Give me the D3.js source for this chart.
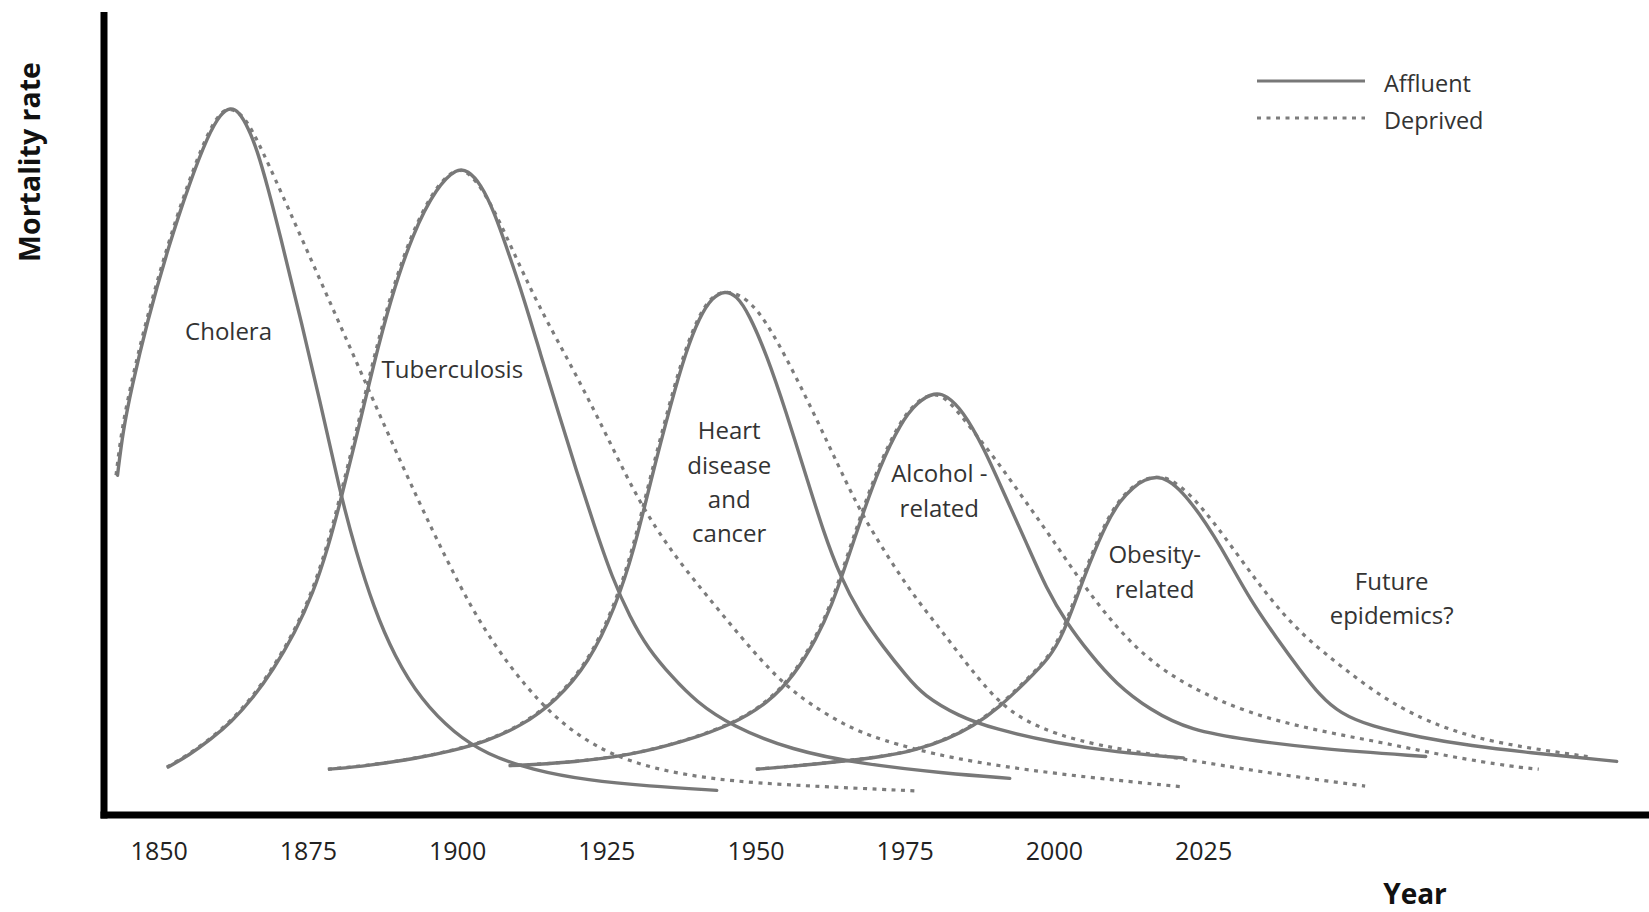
<!DOCTYPE html>
<html>
<head>
<meta charset="utf-8">
<script src="https://cdn.jsdelivr.net/npm/d3@7/dist/d3.min.js"></script>
<style>
  html, body { margin: 0; padding: 0; background: #ffffff; }
  svg { display: block; }
  text { font-family: "Open Sans", "Noto Sans", sans-serif; }
</style>
</head>
<body>
<svg id="chart" width="1649" height="912"></svg>
<script>
// ---------- DATA (year, mortality rate index; peak of cholera = 100) ----------
const tickYears = [1850, 1875, 1900, 1925, 1950, 1975, 2000, 2025];
const seriesNames = ["Affluent", "Deprived"];

// rising branches (shared by affluent and deprived)
const choleraRise = [[1843.1,48.2],[1844.0,54.4],[1845.4,60.4],[1848.1,70.1],[1851.6,80.5],[1855.1,89.5],[1858.3,96.5],[1860.4,99.5],[1862.0,100.4]];
const choleraAffluent = [[1863.4,99.8],[1865.0,97.5],[1866.5,94.3],[1868.3,89.0],[1870.3,82.4],[1873.7,70.6],[1877.0,58.9],[1880.4,45.7],[1883.0,37.5],[1886.0,29.5],[1889.5,22.5],[1894.0,16.3],[1899.5,11.6],[1905.0,8.6],[1912.5,6.4],[1922.0,4.9],[1932.0,4.1],[1943.5,3.5]];
const choleraDeprived = [[1864.6,99.3],[1867.5,94.5],[1872.0,86.0],[1877.5,75.5],[1883.0,65.0],[1888.5,54.4],[1893.8,44.5],[1898.5,36.2],[1902.7,29.3],[1907.0,23.5],[1911.6,18.4],[1916.0,14.4],[1920.5,11.3],[1926.0,8.6],[1932.7,6.7],[1940.0,5.5],[1946.8,4.8],[1955.0,4.3],[1964.5,3.9],[1977.6,3.4]];

const tbRise = [[1851.6,6.8],[1855.1,8.5],[1858.7,10.7],[1862.2,13.2],[1865.7,16.5],[1869.2,20.6],[1872.8,25.8],[1875.9,31.5],[1878.4,38.0],[1880.4,44.3],[1883.3,54.2],[1885.9,63.5],[1888.8,73.0],[1892.6,82.6],[1896.6,89.1],[1900.0,91.8]];
const tbAffluent = [[1901.8,91.4],[1903.9,89.6],[1906.2,85.6],[1908.5,80.0],[1911.0,73.8],[1914.0,65.3],[1917.0,57.0],[1920.0,48.8],[1923.0,41.0],[1926.0,33.6],[1929.0,28.0],[1932.0,23.6],[1936.0,19.6],[1940.0,16.1],[1946.0,12.6],[1956.0,9.2],[1968.0,7.2],[1982.0,5.9],[1992.6,5.2]];
const tbDeprived = [[1902.4,91.2],[1905.7,87.2],[1909.2,80.8],[1913.8,72.3],[1920.2,62.5],[1926.2,52.3],[1930.8,44.3],[1936.2,37.3],[1941.5,31.7],[1950.3,22.7],[1955.0,18.6],[1959.1,15.9],[1965.0,12.8],[1970.9,10.7],[1982.8,8.0],[2000.4,5.8],[2021.7,4.0]];

const heartRise = [[1878.6,6.5],[1885.1,7.0],[1893.0,8.0],[1899.2,9.1],[1904.8,10.4],[1910.7,12.6],[1916.5,16.1],[1922.1,21.6],[1926.5,29.4],[1929.7,37.7],[1932.5,47.6],[1936.0,58.9],[1938.3,65.6],[1940.6,70.6],[1942.7,73.4],[1944.9,74.4]];
const heartAffluent = [[1946.8,73.7],[1948.9,71.1],[1951.9,65.2],[1955.0,57.5],[1958.7,47.5],[1961.3,40.4],[1964.2,33.8],[1967.5,28.5],[1971.4,23.8],[1975.4,19.6],[1978.1,17.0],[1984.0,14.0],[1990.0,12.2],[2000.4,10.2],[2010.3,8.9],[2021.7,8.1]];
const heartDeprived = [[1947.7,73.8],[1950.3,72.0],[1953.7,67.7],[1959.0,58.8],[1962.5,52.5],[1965.4,47.3],[1968.0,42.8],[1972.0,37.2],[1976.4,31.5],[1980.9,26.7],[1985.5,21.6],[1989.3,17.6],[1993.0,14.6],[1998.0,12.3],[2004.0,10.6],[2012.0,9.2],[2021.7,8.0],[2034.9,6.1],[2052.4,4.1]];

const alcoholRise = [[1908.9,7.0],[1918.6,7.4],[1929.2,8.5],[1938.0,10.4],[1946.3,12.9],[1952.1,15.9],[1956.5,19.8],[1960.2,25.0],[1962.7,29.5],[1965.5,36.4],[1967.8,42.3],[1970.8,49.4],[1974.3,55.6],[1977.1,58.6],[1980.1,60.0]];
const alcoholAffluent = [[1982.0,59.5],[1984.7,57.4],[1988.2,52.2],[1991.7,45.5],[1995.3,38.8],[1998.8,32.0],[2002.1,27.3],[2006.0,22.9],[2010.4,18.6],[2016.1,14.9],[2022.8,12.0],[2032.8,10.6],[2044.1,9.4],[2062.3,8.3]];
const alcoholDeprived = [[1982.6,58.9],[1986.5,54.7],[1990.9,50.0],[1995.3,44.7],[1999.7,39.5],[2005.0,32.8],[2010.6,26.7],[2016.1,22.0],[2022.8,18.2],[2032.8,14.4],[2044.1,12.0],[2055.2,10.3],[2066.3,8.3],[2077.6,6.8],[2081.5,6.5]];

const obesityRise = [[1950.3,6.5],[1957.4,7.0],[1964.4,7.6],[1971.5,8.3],[1976.9,9.2],[1982.0,10.7],[1986.5,12.6],[1990.9,15.3],[1995.3,18.9],[1999.3,22.3],[2001.6,25.8],[2003.7,30.6],[2006.0,35.8],[2008.8,41.4],[2011.1,44.6],[2013.3,46.5],[2015.2,47.6],[2017.3,48.0]];
const obesityAffluent = [[2019.0,47.6],[2021.5,45.9],[2024.5,42.6],[2026.8,39.6],[2029.0,36.5],[2032.9,30.5],[2037.4,25.0],[2041.2,20.6],[2044.6,16.9],[2048.0,14.4],[2053.0,12.6],[2061.4,11.0],[2070.0,9.8],[2079.0,8.9],[2094.3,7.6]];
const obesityDeprived = [[2019.6,47.8],[2022.8,45.7],[2025.6,43.0],[2028.4,40.0],[2034.1,33.3],[2038.4,28.7],[2042.9,24.8],[2048.5,21.0],[2055.2,16.7],[2062.0,13.6],[2068.0,11.7],[2073.8,10.4],[2082.0,9.2],[2090.5,8.2]];

// annotation labels
const labelLines = [["Cholera"],["Tuberculosis"],["Heart","disease","and","cancer"],["Alcohol -","related"],["Obesity-","related"],["Future","epidemics?"]];
const labelYear = [1861.7, 1899.2, 1945.6, 1980.8, 2016.9, 2056.6];
const labelRate = [68.8, 63.4, 54.7, 48.6, 37.1, 33.4];

// ---------- CHART ----------
const svg = d3.select("#chart");
const x = d3.scaleLinear().domain([1850, 2025]).range([158.7, 1203.1]);
const y = d3.scaleLinear().domain([0, 100]).range([815, 110]);

const line = d3.line()
  .x(d => x(d[0]))
  .y(d => y(d[1]))
  .curve(d3.curveBasis);

const curves = [
  { rise: choleraRise, aff: choleraAffluent, dep: choleraDeprived },
  { rise: tbRise, aff: tbAffluent, dep: tbDeprived },
  { rise: heartRise, aff: heartAffluent, dep: heartDeprived },
  { rise: alcoholRise, aff: alcoholAffluent, dep: alcoholDeprived },
  { rise: obesityRise, aff: obesityAffluent, dep: obesityDeprived }
];

const gray = "#787878";
const dotGray = "#7c7c7c";
const dots = "4 5.5";

// deprived (dotted) first
svg.append("g").attr("transform", "translate(-1.5,0)")
  .selectAll("path").data(curves).join("path")
  .attr("d", c => line(c.rise.concat(c.dep)))
  .attr("fill", "none")
  .attr("stroke", dotGray)
  .attr("stroke-width", 3.2)
  .attr("stroke-dasharray", dots);

// affluent (solid)
svg.append("g")
  .selectAll("path").data(curves).join("path")
  .attr("d", c => line(c.rise.concat(c.aff)))
  .attr("fill", "none")
  .attr("stroke", gray)
  .attr("stroke-width", 3.4)
  .attr("stroke-linecap", "round");

// labels
const lg = svg.append("g");
labelLines.forEach((lines, i) => {
  const t = lg.append("text")
    .attr("x", x(labelYear[i]))
    .attr("y", y(labelRate[i]))
    .attr("text-anchor", "middle")
    .attr("dominant-baseline", "central")
    .attr("font-size", 24)
    .attr("fill", "#333");
  lines.forEach((s, j) => {
    t.append("tspan").attr("x", x(labelYear[i])).attr("dy", j === 0 ? 0 : "1.43em").text(s);
  });
});

// axes lines
svg.append("line").attr("x1", 104).attr("x2", 104).attr("y1", 12).attr("y2", 818.5)
  .attr("stroke", "#000").attr("stroke-width", 7);
svg.append("line").attr("x1", 100.5).attr("x2", 1649).attr("y1", 815).attr("y2", 815)
  .attr("stroke", "#000").attr("stroke-width", 7);

// x axis tick labels
const xAxis = svg.append("g").attr("transform", "translate(0,815)")
  .call(d3.axisBottom(x).tickValues(tickYears).tickSize(0).tickPadding(27).tickFormat(d3.format("d")));
xAxis.select(".domain").remove();
xAxis.selectAll("text").attr("font-size", 25).attr("fill", "#222")
  .attr("font-family", "'Open Sans', sans-serif");

// axis titles
svg.append("text").attr("x", 1415).attr("y", 893)
  .attr("text-anchor", "middle").attr("dominant-baseline", "central")
  .attr("font-size", 28).attr("font-weight", "bold").attr("fill", "#111").text("Year");
svg.append("text").attr("transform", "translate(29,162) rotate(-90)")
  .attr("text-anchor", "middle").attr("dominant-baseline", "central")
  .attr("font-size", 28.5).attr("font-weight", "bold").attr("fill", "#111").text("Mortality rate");

// legend
const leg = svg.append("g");
seriesNames.forEach((name, i) => {
  const yy = 81 + i * 37;
  leg.append("line").attr("x1", 1257).attr("x2", 1365).attr("y1", yy).attr("y2", yy)
    .attr("stroke", i === 0 ? gray : dotGray)
    .attr("stroke-width", 3.2)
    .attr("stroke-dasharray", i === 0 ? null : dots);
  leg.append("text").attr("x", 1384).attr("y", yy + 2)
    .attr("dominant-baseline", "central")
    .attr("font-size", 23.5).attr("fill", "#333").text(name);
});
</script>
</body>
</html>
